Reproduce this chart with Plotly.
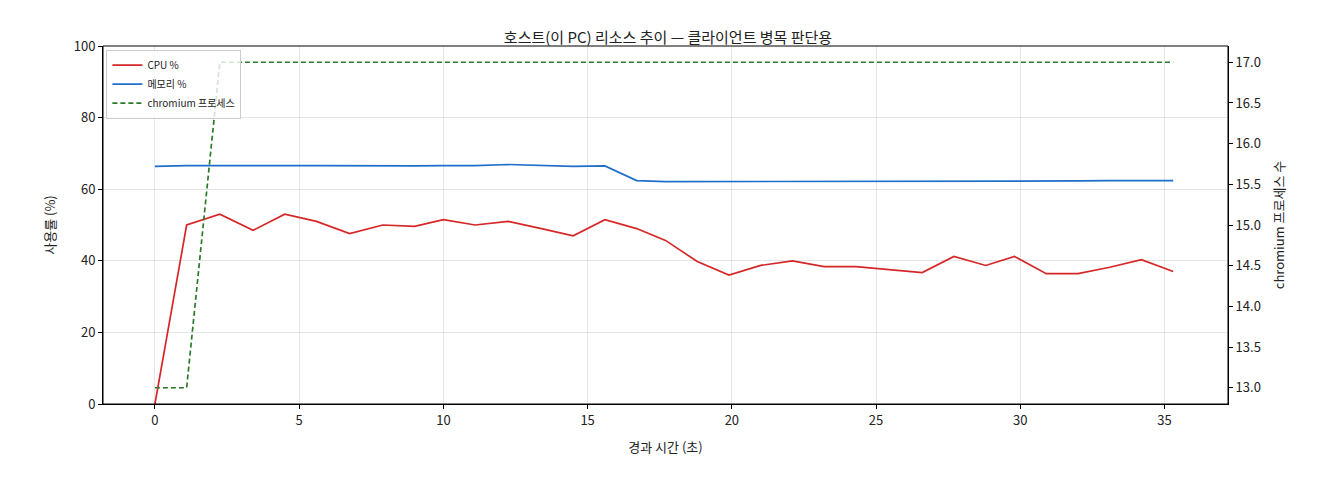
import plotly.graph_objects as go

elapsed = [0, 1.1, 2.25, 3.4, 4.5, 5.6, 6.75, 7.9, 9.0, 10.0, 11.1, 12.25, 13.4, 14.5, 15.6,
           16.7, 17.7, 18.8, 19.9, 21.0, 22.1, 23.2, 24.3, 25.4, 26.6, 27.7, 28.8, 29.8,
           30.9, 32.0, 33.1, 34.2, 35.3]
cpu = [0, 50, 53, 48.5, 53, 51, 47.6, 50, 49.6, 51.5, 50, 51, 49, 47, 51.5,
       49, 45.7, 39.8, 36, 38.7, 40, 38.4, 38.4, 37.5, 36.7, 41.2, 38.7, 41.2,
       36.4, 36.4, 38.2, 40.3, 37]
mem = [66.4, 66.6, 66.6, 66.5, 66.6, 66.6, 66.5, 66.6, 66.5, 66.6, 66.6, 66.9, 66.6, 66.4, 66.5,
       62.4, 62.1, 62.1, 62.1, 62.1, 62.1, 62.2, 62.2, 62.2, 62.2, 62.2, 62.2, 62.3,
       62.3, 62.3, 62.4, 62.4, 62.4]
procs = [13, 13] + [17] * 31

font = "Noto Sans CJK KR, Noto Sans, sans-serif"

fig = go.Figure()
fig.add_trace(go.Scatter(x=elapsed, y=cpu, name="CPU %", mode="lines",
                         line=dict(color="#d62728", width=1.7)))
fig.add_trace(go.Scatter(x=elapsed, y=mem, name="메모리 %", mode="lines",
                         line=dict(color="#1f6fc9", width=1.7)))
fig.add_trace(go.Scatter(x=elapsed, y=procs, name="chromium 프로세스", mode="lines", yaxis="y2",
                         line=dict(color="#2a7a2a", width=1.7, dash="5px,3px")))

axis_common = dict(showline=True, linecolor="black", mirror=False, ticks="outside",
                   tickcolor="black", ticklen=4, zeroline=False,
                   tickfont=dict(size=13, color="#222"))
fig.update_layout(
    width=1320, height=480,
    font=dict(family=font, color="#222"),
    paper_bgcolor="white", plot_bgcolor="white",
    margin=dict(l=95, r=100, t=38, b=84),
    title=dict(text="호스트(이 PC) 리소스 추이 — 클라이언트 병목 판단용", x=0.5, y=0.95,
               xanchor="center", font=dict(size=15)),
    xaxis=dict(title=dict(text="경과 시간 (초)", font=dict(size=13)), range=[-1.8, 37.2],
               tickvals=[0, 5, 10, 15, 20, 25, 30, 35], showgrid=True,
               gridcolor="rgba(0,0,0,0.1)", **axis_common),
    yaxis=dict(title=dict(text="사용률 (%)", font=dict(size=13)), range=[0, 100], dtick=20,
               showgrid=True, gridcolor="rgba(0,0,0,0.1)", **axis_common),
    yaxis2=dict(title=dict(text="chromium 프로세스 수", font=dict(size=13)), overlaying="y",
                side="right", range=[12.8, 17.2], dtick=0.5, tickformat=".1f",
                showgrid=False, **axis_common),
    legend=dict(x=0.003, y=0.99, xanchor="left", yanchor="top", bgcolor="rgba(255,255,255,0.8)",
                bordercolor="#ccc", borderwidth=1, font=dict(size=10), tracegroupgap=0),
)
fig.add_shape(type="rect", xref="paper", yref="paper", x0=0, y0=0, x1=1, y1=1,
              line=dict(color="black", width=1))

fig.write_html("out.html")
